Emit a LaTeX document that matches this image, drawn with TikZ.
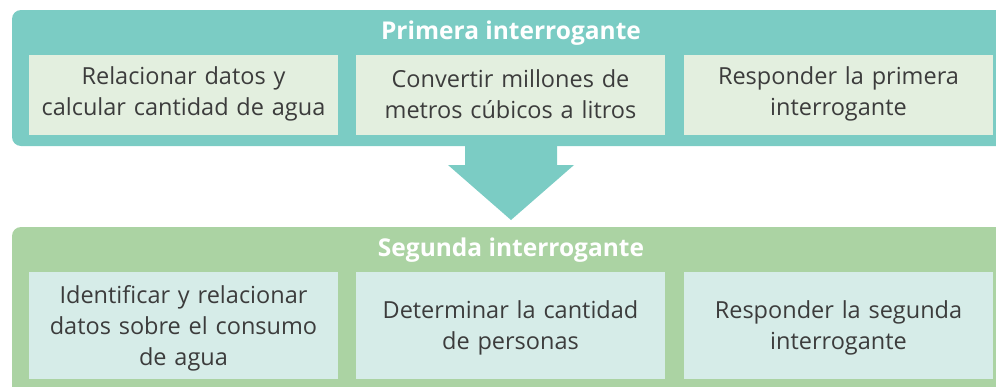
\documentclass[tikz,border=0pt]{standalone}
\usepackage{fontspec}
\setmainfont{Open Sans}
\definecolor{teal1}{HTML}{7BCCC4}
\definecolor{green1}{HTML}{ABD3A3}
\definecolor{boxA}{HTML}{E3EFDF}
\definecolor{boxB}{HTML}{D6ECE8}
\definecolor{txt}{HTML}{3C3C3C}
\begin{document}
\begin{tikzpicture}[x=1pt,y=-1pt,
  stepbox/.style={inner sep=0pt,minimum width=309pt,text width=305pt,align=center,
    font=\fontsize{23.5}{31}\selectfont,text=txt},
  titletext/.style={font=\fontsize{24.5}{28}\selectfont\bfseries,text=white}]
\useasboundingbox (0,0) rectangle (996,386);
\clip (0,0) rectangle (996,386);
% top panel
\fill[teal1,rounded corners=9pt] (12,10) rectangle (1020,146);
\node[titletext] (t1) at (511,33) {Primera interrogante};
\fill[boxA] (29,55) rectangle (338,135);
\fill[boxA] (356,55) rectangle (665,135);
\fill[boxA] (684,55) rectangle (993,135);
\node[stepbox] (a1) at (183.5,94) {Relacionar datos y\\calcular cantidad de agua};
\node[stepbox] (a2) at (510.5,94) {Convertir millones de\\metros cúbicos a litros};
\node[stepbox] (a3) at (838.5,94) {Responder la primera\\interrogante};
% arrow
\fill[teal1] (465,140) -- (557,140) -- (557,165) -- (574,165) -- (511,220) -- (448,165) -- (465,165) -- cycle;
% bottom panel
\fill[green1,rounded corners=9pt] (12,227) rectangle (1020,420);
\node[titletext] (t2) at (511,250) {Segunda interrogante};
\fill[boxB] (29,272) rectangle (338,379);
\fill[boxB] (356,272) rectangle (665,379);
\fill[boxB] (684,272) rectangle (993,379);
\node[stepbox] (b1) at (183.5,328) {Identificar y relacionar\\datos sobre el consumo\\de agua};
\node[stepbox] (b2) at (510.5,328) {Determinar la cantidad\\de personas};
\node[stepbox] (b3) at (838.5,328) {Responder la segunda\\interrogante};
\end{tikzpicture}
\end{document}
